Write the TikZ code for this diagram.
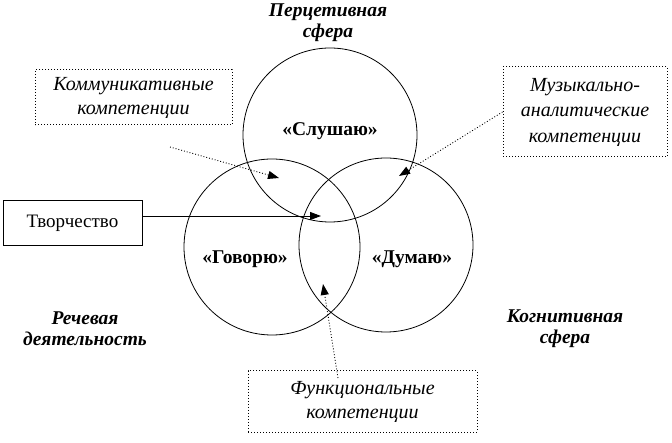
\documentclass[tikz,border=0pt]{standalone}
\usepackage{fontspec}
\setmainfont{Liberation Serif}
\usetikzlibrary{arrows.meta}
\begin{document}
\begin{tikzpicture}[x=1pt,y=-1pt,
  circ/.style={draw,line width=0.8pt},
  dotbox/.style={draw,dotted,line width=1pt,align=center,font=\fontsize{20}{24}\selectfont\itshape},
  solbox/.style={draw,line width=1pt,font=\fontsize{19}{22}\selectfont},
  lab/.style={font=\fontsize{19.5}{21}\selectfont\bfseries\itshape,align=center},
  cl/.style={font=\fontsize{19.5}{22}\selectfont\bfseries},
  arr/.style={-{Triangle[length=11pt,width=8pt]},line width=0.9pt},
  darr/.style={arr,dotted}]
\useasboundingbox (0,0) rectangle (672,443);
\draw[circ] (330,135) circle (87);
\draw[circ] (272,247) circle (88);
\draw[circ] (386,245) circle (87);
\node[cl] (s) at (330,131) {«Слушаю»};
\node[cl] (g) at (245,259) {«Говорю»};
\node[cl] (d) at (412,259) {«Думаю»};
\node[lab] (p) at (328,23) {Перцетивная\\сфера};
\node[lab] (r) at (85,329) {Речевая\\деятельность};
\node[lab] (k) at (565,329) {Когнитивная\\сфера};
\node[dotbox,minimum width=197pt,minimum height=55pt] (km) at (133.5,97.5) {Коммуникативные\\компетенции};
\node[solbox,minimum width=139pt,minimum height=45pt] (tv) at (72.5,223.5) {Творчество};
\node[dotbox,minimum width=164pt,minimum height=90pt,font=\fontsize{20}{25.5}\selectfont\itshape] (mz) at (585,112) {Музыкально-\\аналитические\\компетенции};
\node[dotbox,minimum width=229pt,minimum height=61pt] (fn) at (362.5,401.5) {Функциональные\\компетенции};
\coordinate (kmS) at (170,147);
\coordinate (kmE) at (279,178);
\coordinate (tvE) at (321,216);
\coordinate (mzE) at (399,176);
\coordinate (fnS) at (338,378);
\coordinate (fnE) at (323,284);
\draw[darr] (kmS) -- (kmE);
\draw[arr] (tv.east |- tvE) -- (tvE);
\draw[darr] (mz.west) -- (mzE);
\draw[darr] (fnS) -- (fnE);
\end{tikzpicture}
\end{document}
